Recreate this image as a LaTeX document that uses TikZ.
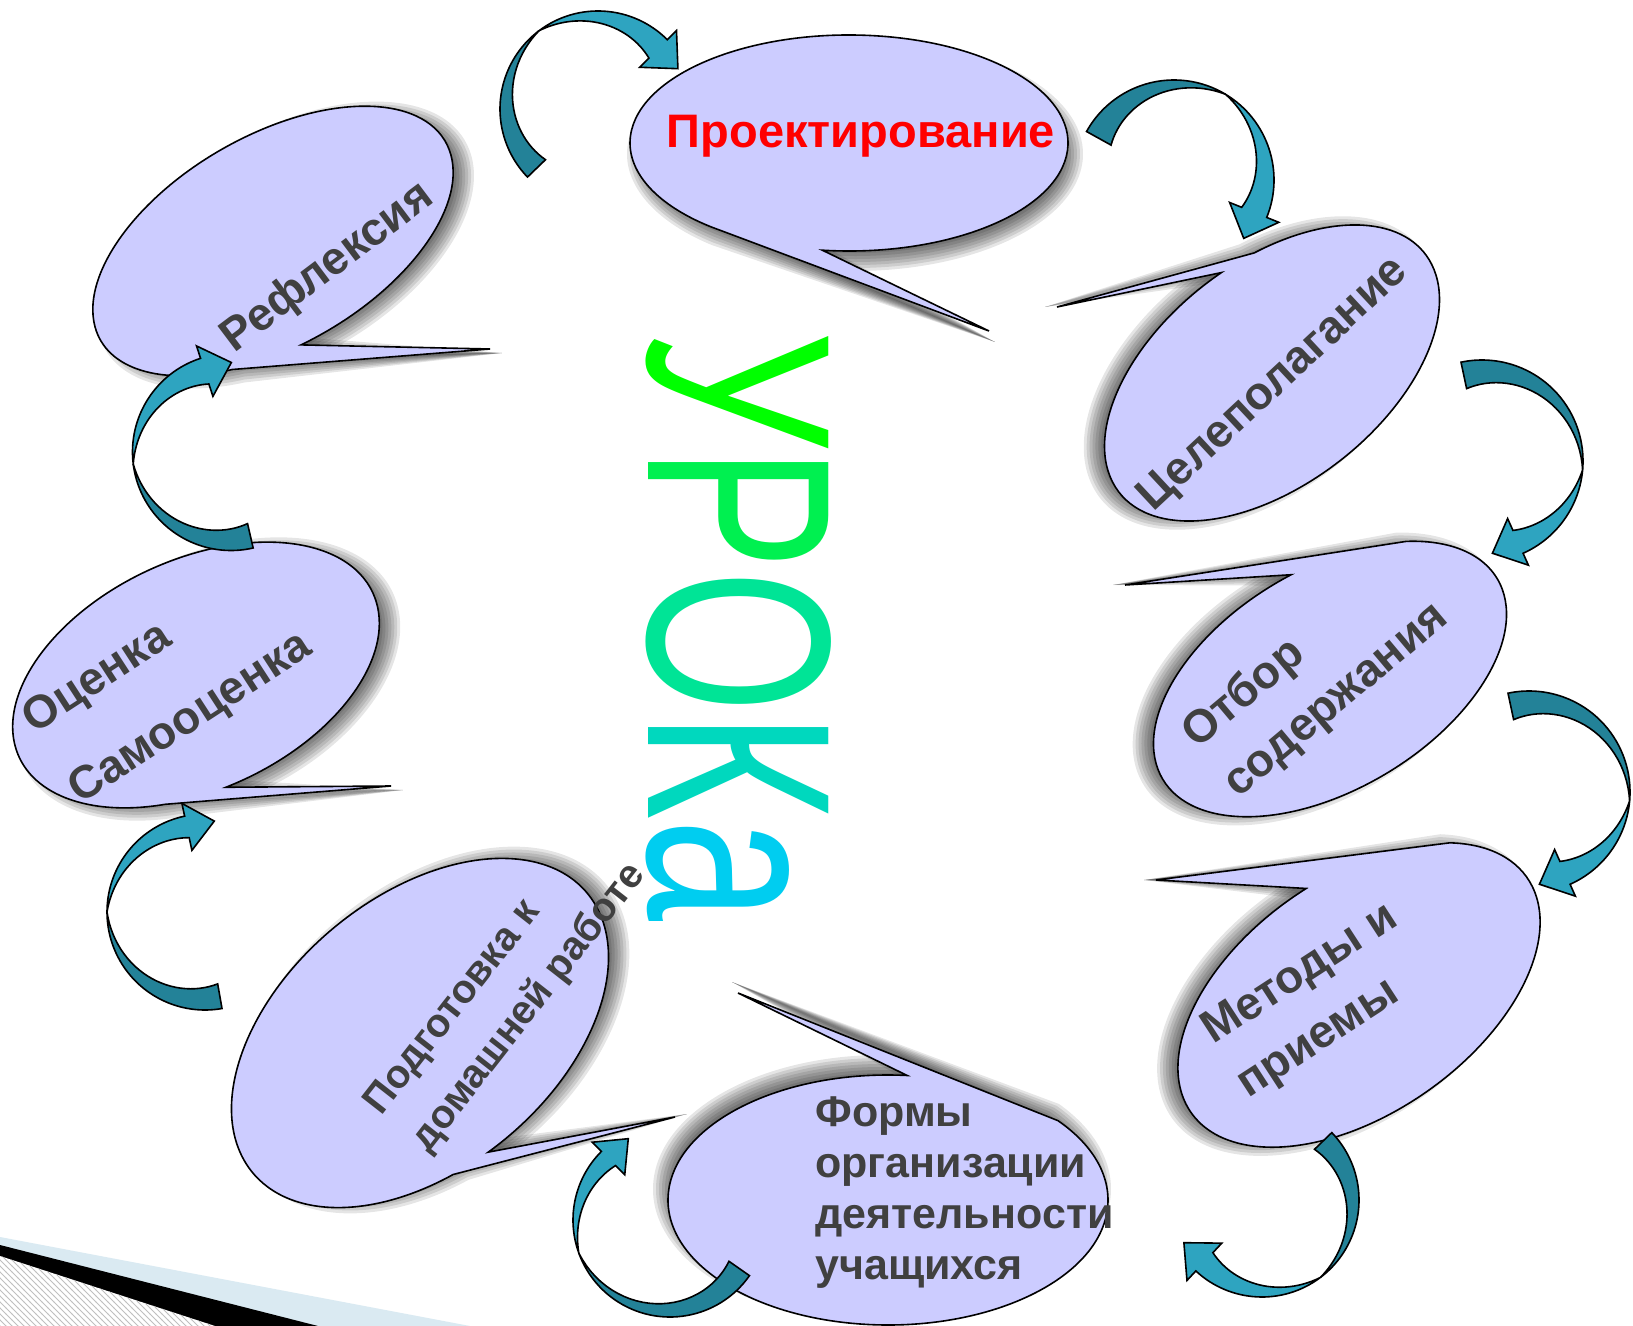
\documentclass[tikz,border=0pt]{standalone}
\usepackage{fontspec}
\setmainfont{Liberation Sans}
\usetikzlibrary{calc,patterns}
\definecolor{bubble}{RGB}{204,204,255}
\definecolor{txtgray}{RGB}{64,64,64}
\definecolor{arrlightc}{RGB}{46,164,192}
\definecolor{arrdarkc}{RGB}{35,130,152}
\definecolor{deco}{RGB}{218,234,242}
\tikzset{
  bubblestyle/.style={fill=bubble, draw=black, line width=0.8pt, line join=miter},
  shadowlayer/.style={fill=black, opacity=0.1},
  arrdark/.style={fill=arrdarkc, draw=black, line width=0.8pt, line join=miter},
  arrlight/.style={fill=arrlightc, draw=black, line width=0.8pt, line join=miter},
  lbl/.style={text=txtgray, font=\fontsize{23}{32}\selectfont\bfseries, inner sep=0pt},
}
% callout bubble: #1 centre, #2 rx, #3 ry, #4 rotation, #5 start angle, #6 end angle, #7 tip, #8/#9 shadow offset
\newcommand\callout[9]{%
  \coordinate (sc) at ($(#1)+(#8,#9)$);
  \coordinate (st) at ($(#7)+(#8,#9)$);
  \foreach \k in {-12,-9,-6,-3,0,3,6,9}{%
    \pgfmathsetmacro\rxk{#2+\k}\pgfmathsetmacro\ryk{#3+\k}%
    \fill[shadowlayer, shift={(sc)}, rotate=#4] (#5:\rxk\space and \ryk) arc[start angle=#5, end angle=#6, x radius=\rxk, y radius=\ryk] -- (st) -- cycle;}
  \filldraw[bubblestyle, shift={(#1)}, rotate=#4] (#5:#2 and #3) arc[start angle=#5, end angle=#6, x radius=#2, y radius=#3] -- (#7) -- cycle;
}
% curved twisted arrow: #1 cx, #2 cy (pixels, y down), #3 outer radius, #4 tail width, #5 head width,
% #6 fold angle, #7 tail angle, #8 head angle
\newcommand\carrow[8]{%
  \begin{scope}[shift={(#1,-#2)}]
    \pgfmathsetmacro\Ra{#3}
    \pgfmathsetmacro\sg{sign(#8-(#6))}
    \pgfmathsetmacro\Rh{#3-#5/2}
    \pgfmathsetmacro\Tx{\Rh*cos(#8)+28*cos(#8+\sg*90)}
    \pgfmathsetmacro\Ty{\Rh*sin(#8)+28*sin(#8+\sg*90)}
    \filldraw[arrdark] (#7:\Ra) arc[start angle=#7, end angle=#6, radius=\Ra]
      -- plot[domain=#6:#7, samples=30] (\x:{#3-#4*abs(\x-(#6))/abs(#7-(#6))}) -- cycle;
    \filldraw[arrlight] (#6:\Ra) arc[start angle=#6, end angle=#8, radius=\Ra]
      -- (#8:{#3+13}) -- (\Tx,\Ty) -- (#8:{#3-#5-13})
      -- plot[domain=#8:#6, samples=30] (\x:{#3-#5*abs(\x-(#6))/abs(#8-(#6))}) -- cycle;
  \end{scope}}
\begin{document}
\begin{tikzpicture}[x=0.5pt, y=0.5pt]
\useasboundingbox (0,0) rectangle (1633,-1326);
\clip (0,0) rectangle (1633,-1326);
\fill[white] (0,0) rectangle (1633,-1326);

% bottom-left decoration
\fill[deco] (0,-1237) -- (470,-1326) -- (0,-1326) -- cycle;
\fill[black] (0,-1245) -- (318,-1326) -- (0,-1326) -- cycle;
\fill[white] (0,-1256) -- (215,-1326) -- (0,-1326) -- cycle;
\fill[pattern=north west lines, pattern color=gray!50] (0,-1256) -- (215,-1326) -- (0,-1326) -- cycle;

% centres and tips of the bubbles
\coordinate (c1) at (849,-143);  \coordinate (tp1) at (989,-331);
\coordinate (c2) at (1272,-373); \coordinate (tp2) at (1057,-307);
\coordinate (c3) at (1330,-679); \coordinate (tp3) at (1125,-585);
\coordinate (c4) at (1359,-995); \coordinate (tp4) at (1156,-880);
\coordinate (c5) at (888,-1200); \coordinate (tp5) at (738,-993);
\coordinate (c6) at (420,-1033); \coordinate (tp6) at (675,-1117);
\coordinate (c7) at (196,-675);  \coordinate (tp7) at (391,-786);
\coordinate (c8) at (273,-241);  \coordinate (tp8) at (490,-349);

\callout{c1}{219}{108}{0}{263}{591}{tp1}{6}{-11}
\callout{c2}{194}{111}{38}{83.5}{432}{tp2}{-12}{0}
\callout{c3}{195}{110}{31}{84}{405.7}{tp3}{-12}{0}
\callout{c4}{205}{118}{35}{85}{398}{tp4}{-12}{0}
\callout{c5}{220}{125}{0}{85}{399.4}{tp5}{-6}{11}
\callout{c6}{218}{136}{40}{263.6}{612.5}{tp6}{12}{3}
\callout{c7}{195}{115}{25}{264}{605}{tp7}{12}{-4}
\callout{c8}{199}{105}{30}{262}{600}{tp8}{12}{-4}

% texts
\node[text=red, font=\fontsize{23.5}{28}\selectfont\bfseries, inner sep=0pt] (t1) at (861,-136) {Проектирование};
\node[lbl, rotate=43] (t2) at (1274,-385) {Целеполагание};
\node[lbl, rotate=40, align=left] (t3) at (1316,-676) {Отбор\\содержания};
\node[lbl, rotate=33, align=left] (t4) at (1318,-1002) {Методы и\\приемы};
\node[lbl, font=\fontsize{21.5}{25.5}\selectfont\bfseries, align=left, anchor=north west] (t5) at (815,-1096) {Формы\\организации\\деятельности\\учащихся};
\node[lbl, font=\fontsize{20}{30}\selectfont\bfseries, rotate=52, align=left] (t6) at (506,-990) {Подготовка к\\домашней работе};
\node[lbl, font=\fontsize{23}{42}\selectfont\bfseries, rotate=33, align=left] (t7) at (168,-684) {Оценка\\Самооценка};
\node[lbl, rotate=37] (t8) at (328,-268) {Рефлексия};

\node[anchor=base west, rotate=-90, xscale=0.7, inner sep=0pt, font=\fontsize{131}{131}\selectfont] (urok) at (648,-331)
  {\textcolor[RGB]{0,255,0}{У}\textcolor[RGB]{0,240,80}{Р}\textcolor[RGB]{0,228,150}{О}\textcolor[RGB]{0,216,190}{К}\textcolor[RGB]{0,205,240}{а}};

% curved arrows
\carrow{598}{109}{98}{25}{26}{127}{224}{45}
\carrow{1174}{180}{100}{28}{27}{59}{151}{-22}
\carrow{1482}{461}{101}{27}{25}{-5}{102}{-66}
\carrow{1529}{792}{101}{27}{25}{-5}{102}{-66}
\carrow{1262}{1200}{97}{24}{25}{-53}{44}{-133}
\carrow{670}{1220}{97}{25}{20}{-160}{-35}{-225}
\carrow{205}{912}{98}{25}{22}{-180}{-80}{-258}
\carrow{231}{452}{98.5}{25}{27}{-173}{-77}{-252}
\end{tikzpicture}
\end{document}
